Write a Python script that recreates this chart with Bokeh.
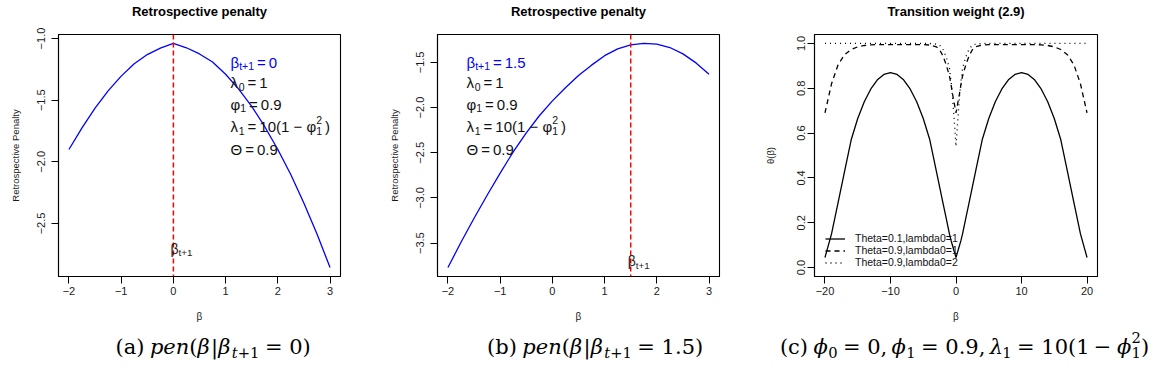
from bokeh.plotting import figure
from bokeh.models import Range1d, FixedTicker, Label, Legend, LegendItem, Span, LinearAxis
from bokeh.layouts import row, column
from bokeh.embed import file_html
from bokeh.resources import INLINE

# ---------------- data ----------------
# retrospective penalty curves over beta
beta = [-2.0, -1.75, -1.5, -1.25, -1.0, -0.75, -0.5, -0.25, 0.0, 0.25, 0.5,
        0.75, 1.0, 1.25, 1.5, 1.75, 2.0, 2.25, 2.5, 2.75, 3.0]
pen_next0 = [-1.90, -1.725, -1.565, -1.425, -1.305, -1.205, -1.13, -1.078, -1.04,
             -1.075, -1.125, -1.19, -1.29, -1.41, -1.55, -1.715, -1.90, -2.105,
             -2.335, -2.585, -2.857]
pen_next15 = [-3.77, -3.49, -3.225, -2.97, -2.725, -2.49, -2.28, -2.09, -1.925,
              -1.78, -1.645, -1.53, -1.425, -1.35, -1.305, -1.29, -1.297, -1.335,
              -1.405, -1.505, -1.63]
beta_next = [0.0, 1.5]

# transition weight theta(beta)
beta_w = [-20, -19, -18, -17, -16, -15, -14, -13, -12, -11, -10, -9, -8, -7, -6, -5, -4,
          -3, -2.5, -2, -1.5, -1, -0.75, -0.5, -0.25, 0, 0.25, 0.5, 0.75, 1, 1.5, 2, 2.5, 3,
          4, 5, 6, 7, 8, 9, 10, 11, 12, 13, 14, 15, 16, 17, 18, 19, 20]
w_theta01_l1 = [0.045, 0.15, 0.29, 0.43, 0.57, 0.665, 0.74, 0.797, 0.838, 0.862, 0.87,
                0.862, 0.838, 0.797, 0.74, 0.665, 0.57,
                0.43, 0.36, 0.29, 0.22, 0.15, 0.12, 0.095, 0.07, 0.045, 0.07, 0.095, 0.12,
                0.15, 0.22, 0.29, 0.36, 0.43,
                0.57, 0.665, 0.74, 0.797, 0.838, 0.862, 0.87, 0.862, 0.838, 0.797, 0.74,
                0.665, 0.57, 0.43, 0.29, 0.15, 0.045]
w_theta09_l1 = [0.69, 0.82, 0.905, 0.95, 0.973, 0.985, 0.991, 0.994, 0.995, 0.995, 0.995,
                0.995, 0.995, 0.995, 0.995, 0.995, 0.993,
                0.985, 0.972, 0.945, 0.905, 0.855, 0.815, 0.77, 0.73, 0.69, 0.73, 0.77, 0.815,
                0.855, 0.905, 0.945, 0.972, 0.985,
                0.993, 0.995, 0.995, 0.995, 0.995, 0.995, 0.995, 0.995, 0.995, 0.994, 0.991,
                0.985, 0.973, 0.95, 0.905, 0.82, 0.69]
w_theta09_l2 = [1.0, 1.0, 1.0, 1.0, 1.0, 1.0, 1.0, 1.0, 1.0, 1.0, 1.0, 1.0, 1.0, 1.0, 1.0, 1.0, 1.0,
                0.997, 0.992, 0.975, 0.94, 0.89, 0.83, 0.75, 0.65, 0.54, 0.65, 0.75, 0.83,
                0.89, 0.94, 0.975, 0.992, 0.997,
                1.0, 1.0, 1.0, 1.0, 1.0, 1.0, 1.0, 1.0, 1.0, 1.0, 1.0, 1.0, 1.0, 1.0, 1.0, 1.0, 1.0]
w_limits = [0.0, 1.0]
w_names = ["Theta=0.1,lambda0=1", "Theta=0.9,lambda0=1", "Theta=0.9,lambda0=2"]

# ticks
pen_xticks = [-2, -1, 0, 1, 2, 3]
pen_xlabels = ["\u22122", "\u22121", "0", "1", "2", "3"]
pen0_yticks = [-1.0, -1.5, -2.0, -2.5]
pen0_ylabels = ["\u22121.0", "\u22121.5", "\u22122.0", "\u22122.5"]
pen15_yticks = [-1.5, -2.0, -2.5, -3.0, -3.5]
pen15_ylabels = ["\u22121.5", "\u22122.0", "\u22122.5", "\u22123.0", "\u22123.5"]
w_xticks = [-20, -10, 0, 10, 20]
w_xlabels = ["\u221220", "\u221210", "0", "10", "20"]
w_yticks = [0.0, 0.2, 0.4, 0.6, 0.8, 1.0]
w_ylabels = ["0.0", "0.2", "0.4", "0.6", "0.8", "1.0"]

# ---------------- styling helpers ----------------
SANS = "Liberation Sans"
SERIF = "DejaVu Serif"
FRAME_TOP, FRAME_BOTTOM, PANEL_H = 32, 276, 330
CAP_W, CAP_H = 1154, 55

SANS_W = {"0": .556, "1": .556, "2": .556, "3": .556, "4": .556, "5": .556, "6": .556,
          "7": .556, "8": .556, "9": .556, ".": .278, " ": .278, "\u2009": .2, "=": .584,
          "(": .333, ")": .333, "+": .584, "\u2212": .584, "t": .278, "\u03b2": .575,
          "\u03bb": .55, "\u03c6": .65, "\u0398": .778}
SERIF_W = {"(": .39, ")": .39, "a": .596, "b": .64, "c": .56, " ": .26, "p": .64,
           "e": .592, "n": .644, "\u03b2": .65, "|": .337, "t": .402, "+": .838,
           "0": .636, "1": .636, "2": .636, "5": .636, "9": .636, "=": .838, ".": .318,
           ",": .318, "\u03d5": .70, "\u03bb": .6, "\u2212": .838}
BLANKS = " \u2009"


def padded(lo, hi, f=0.04):
    d = hi - lo
    return Range1d(lo - f * d, hi + f * d)


def place_runs(p, x, y, runs, size, font, color, table, dx=0.0, dy=0.0, center=False):
    """Lay out a formula as consecutive text runs.
    role: n = normal, sub = subscript, sub* = subscript with a superscript stacked on it,
    sup = superscript.  Blank characters at the edges of a run become offsets."""
    small = 0.7 * size

    def width(txt, s):
        return s * sum(table.get(c, 0.55) for c in txt)

    def adv(txt, role):
        if role == "sub*":
            return 0.0
        return width(txt, size if role == "n" else small)

    total = sum(adv(t, r) for t, r, _ in runs)
    cx = dx - (total / 2.0 if center else 0.0)
    shift = {"n": 0.0, "sub": -0.27 * size, "sub*": -0.27 * size, "sup": 0.42 * size}
    for txt, role, style in runs:
        s = size if role == "n" else small
        body = txt.lstrip(BLANKS)
        lead = width(txt[:len(txt) - len(body)], s)
        body = body.rstrip(BLANKS)
        if body:
            p.add_layout(Label(x=x, y=y, x_offset=cx + lead, y_offset=dy + shift[role],
                               text=body, text_font=font, text_font_size=f"{s:.1f}px",
                               text_font_style=style, text_color=color,
                               text_align="left", text_baseline="alphabetic"))
        cx += adv(txt, role)


def base_fig(width, left, right, xr, yr, xticks, xlabels, yticks, ylabels, ylabel, title):
    p = figure(width=width, height=PANEL_H, x_range=xr, y_range=yr, output_backend="svg",
               toolbar_location=None, min_border_left=left, min_border_right=right,
               min_border_top=FRAME_TOP, min_border_bottom=PANEL_H - FRAME_BOTTOM)
    p.title = None
    p.grid.visible = False
    p.background_fill_color = "white"
    p.border_fill_color = "white"
    p.outline_line_color = "black"
    p.outline_line_width = 1.1
    xa, ya = p.below[0], p.left[0]
    for ax in (xa, ya):
        ax.axis_line_color = "black"
        ax.axis_line_width = 1.1
        ax.major_tick_line_color = "black"
        ax.major_tick_line_width = 1
        ax.major_tick_out = 7
        ax.major_tick_in = 0
        ax.minor_tick_line_color = None
        ax.major_label_text_font = SANS
        ax.major_label_text_font_size = "11px"
        ax.major_label_text_color = "#1a1a1a"
        ax.axis_label_text_font = SANS
        ax.axis_label_text_font_style = "normal"
        ax.axis_label_text_color = "#1a1a1a"
    xa.ticker = FixedTicker(ticks=xticks)
    xa.major_label_overrides = dict(zip(xticks, xlabels))
    xa.major_label_standoff = 3
    xa.axis_label = "\u03b2"
    xa.axis_label_text_font_size = "10px"
    xa.axis_label_standoff = 13
    ya.ticker = FixedTicker(ticks=yticks)
    ya.major_label_overrides = dict(zip(yticks, ylabels))
    ya.major_label_orientation = "vertical"
    ya.major_label_standoff = 6
    ya.axis_label = ylabel
    ya.axis_label_text_font_size = "9.5px"
    ya.axis_label_standoff = 14
    # panel heading, carried by a bare axis above the frame
    head = LinearAxis(ticker=FixedTicker(ticks=[]), axis_label=title,
                      axis_line_color=None, major_tick_line_color=None,
                      minor_tick_line_color=None, major_tick_out=0, major_tick_in=0,
                      major_label_standoff=0, axis_label_standoff=16,
                      axis_label_text_font=SANS, axis_label_text_font_size="13px",
                      axis_label_text_font_style="bold", axis_label_text_color="black")
    p.add_layout(head, "above")
    return p


def param_block(p, xr, yr, dx, first):
    """Parameter annotation, placed from the frame's top-left corner."""
    size = 15
    lines = [
        first,
        [("\u03bb", "n", "normal"), ("0", "sub", "normal"), ("\u2009=\u20091", "n", "normal")],
        [("\u03c6", "n", "normal"), ("1", "sub", "normal"), ("\u2009=\u20090.9", "n", "normal")],
        [("\u03bb", "n", "normal"), ("1", "sub", "normal"), ("\u2009=\u200910(1", "n", "normal"),
         (" \u2212 ", "n", "normal"), ("\u03c6", "n", "normal"), ("1", "sub*", "normal"),
         ("2", "sup", "normal"), ("\u2009)", "n", "normal")],
        [("\u0398\u2009=\u20090.9", "n", "normal")],
    ]
    baselines = [27.5, 48, 69.5, 92, 115]
    for i, (runs, b) in enumerate(zip(lines, baselines)):
        color = "blue" if i == 0 else "#111111"
        place_runs(p, xr.start, yr.end, runs, size, SANS, color, SANS_W, dx=dx, dy=-b)


def beta_next_marker(p, b, yv):
    runs = [("\u03b2", "n", "normal"), ("t+1", "sub", "normal")]
    place_runs(p, b, yv, runs, 14, SANS, "#1a1a1a", SANS_W, dx=-3, dy=-1)


# ---------------- panel (a) ----------------
xr1 = padded(min(beta), max(beta))
yr1 = padded(min(pen_next0), max(pen_next0))
p1 = base_fig(385, 58, 45, xr1, yr1, pen_xticks, pen_xlabels, pen0_yticks, pen0_ylabels,
              "Retrospective Penalty", "Retrospective penalty")
p1.add_layout(Span(location=beta_next[0], dimension="height", line_color="#ff0000",
                   line_dash="5 3", line_width=1.5))
p1.line(beta, pen_next0, line_color="blue", line_width=1.3)
param_block(p1, xr1, yr1, 172,
            [("\u03b2", "n", "normal"), ("t+1", "sub", "normal"), ("\u2009=\u20090", "n", "normal")])
beta_next_marker(p1, beta_next[0], -2.70)

# ---------------- panel (b) ----------------
xr2 = padded(min(beta), max(beta))
yr2 = padded(min(pen_next15), max(pen_next15))
p2 = base_fig(375, 51, 41, xr2, yr2, pen_xticks, pen_xlabels, pen15_yticks, pen15_ylabels,
              "Retrospective Penalty", "Retrospective penalty")
p2.add_layout(Span(location=beta_next[1], dimension="height", line_color="#ff0000",
                   line_dash="5 3", line_width=1.5))
p2.line(beta, pen_next15, line_color="blue", line_width=1.3)
param_block(p2, xr2, yr2, 29,
            [("\u03b2", "n", "normal"), ("t+1", "sub", "normal"), ("\u2009=\u20091.5", "n", "normal")])
beta_next_marker(p2, beta_next[1], -3.69)

# ---------------- panel (c) ----------------
xr3 = padded(min(beta_w), max(beta_w))
yr3 = padded(w_limits[0], w_limits[1])
p3 = base_fig(394, 54, 57, xr3, yr3, w_xticks, w_xlabels, w_yticks, w_ylabels,
              "\u03b8(\u03b2)", "Transition weight (2.9)")
p3.left[0].major_label_standoff = 2
p3.left[0].axis_label_standoff = 19
r1 = p3.line(beta_w, w_theta01_l1, line_color="black", line_width=1.3)
r2 = p3.line(beta_w, w_theta09_l1, line_color="black", line_width=1.3, line_dash="5 4")
r3 = p3.line(beta_w, w_theta09_l2, line_color="black", line_width=1.3, line_dash="1 4")
leg = Legend(items=[LegendItem(label=w_names[0], renderers=[r1]),
                    LegendItem(label=w_names[1], renderers=[r2]),
                    LegendItem(label=w_names[2], renderers=[r3])],
             location=(11, 8), orientation="vertical", padding=0, margin=0, spacing=0,
             glyph_width=20, glyph_height=11, label_height=11, label_standoff=10,
             label_text_font=SANS, label_text_font_size="10.5px", label_text_color="#111111",
             border_line_alpha=0, background_fill_alpha=0)
p3.add_layout(leg)

# ---------------- sub-figure captions ----------------
cap = figure(width=CAP_W, height=CAP_H, x_range=Range1d(0, CAP_W), y_range=Range1d(0, CAP_H),
             output_backend="svg", toolbar_location=None, min_border=0,
             x_axis_location=None, y_axis_location=None)
cap.title = None
cap.grid.visible = False
cap.outline_line_color = None
cap.background_fill_color = "white"
cap.border_fill_color = "white"

CAP_BASE = CAP_H - 16
cap_a = [("(a) ", "n", "normal"), ("pen", "n", "italic"), ("(", "n", "normal"),
         ("\u03b2", "n", "italic"), ("|", "n", "normal"), ("\u03b2", "n", "italic"),
         ("t", "sub", "italic"), ("+1", "sub", "normal"), (" = 0)", "n", "normal")]
cap_b = [("(b) ", "n", "normal"), ("pen", "n", "italic"), ("(", "n", "normal"),
         ("\u03b2", "n", "italic"), ("|", "n", "normal"), ("\u03b2", "n", "italic"),
         ("t", "sub", "italic"), ("+1", "sub", "normal"), (" = 1.5)", "n", "normal")]
cap_c = [("(c) ", "n", "normal"), ("\u03d5", "n", "italic"), ("0", "sub", "normal"),
         (" = 0,", "n", "normal"), (" \u03d5", "n", "italic"), ("1", "sub", "normal"),
         (" = 0.9,", "n", "normal"), (" \u03bb", "n", "italic"), ("1", "sub", "normal"),
         (" = 10(1", "n", "normal"), (" \u2212 ", "n", "normal"), ("\u03d5", "n", "italic"),
         ("1", "sub*", "normal"), ("2", "sup", "normal"), (")", "n", "normal")]
for cx, runs in ((212, cap_a), (594, cap_b), (964, cap_c)):
    place_runs(cap, cx, CAP_BASE, runs, 21, SERIF, "black", SERIF_W, center=True)

layout = column(row(p1, p2, p3), cap)
with open("out.html", "w") as f:
    f.write(file_html(layout, INLINE))
